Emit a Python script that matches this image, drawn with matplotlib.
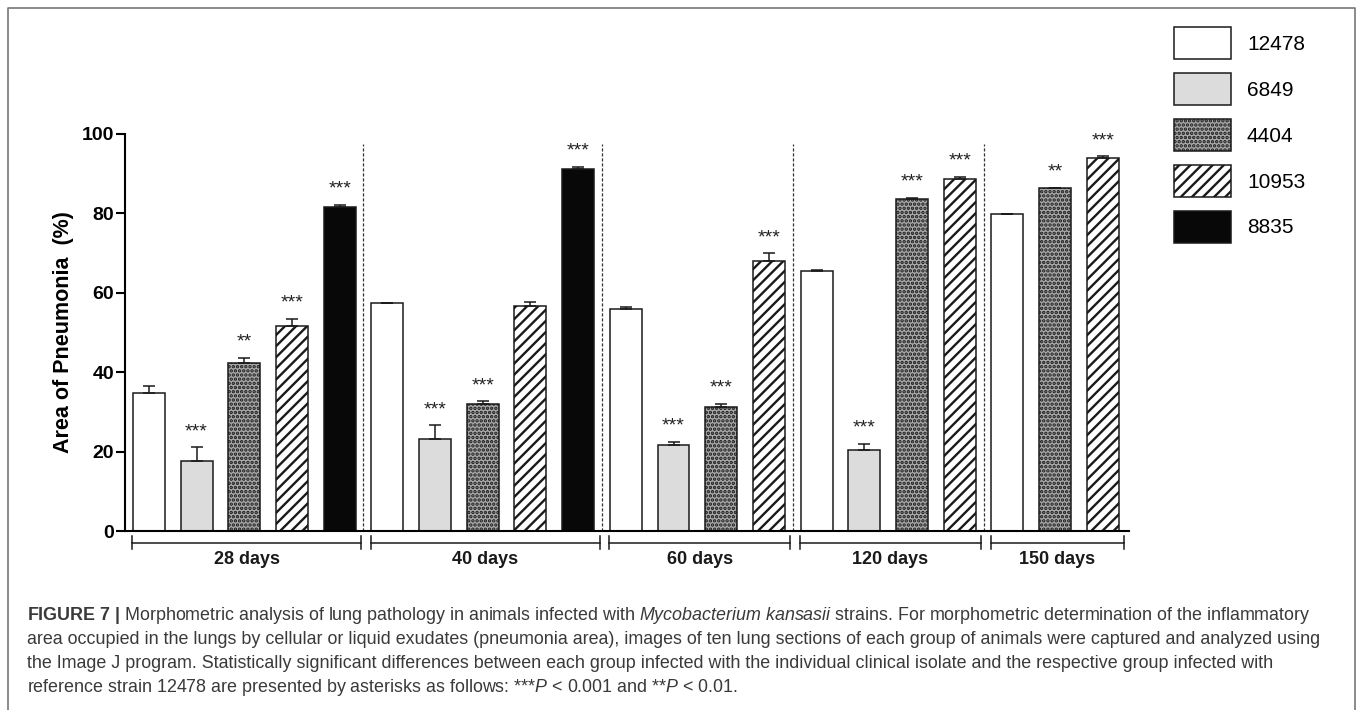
import matplotlib
matplotlib.use("Agg")
import matplotlib.pyplot as plt
import matplotlib.patches as mpatches
import matplotlib.transforms as mtransforms
from matplotlib.lines import Line2D

plt.rcParams["font.family"] = ["Liberation Sans", "DejaVu Sans"]
plt.rcParams["mathtext.fontset"] = "custom"
plt.rcParams["mathtext.rm"] = "Liberation Sans"
plt.rcParams["mathtext.it"] = "Liberation Sans:italic"
plt.rcParams["mathtext.bf"] = "Liberation Sans:bold"
plt.rcParams["hatch.linewidth"] = 1.7

# time points and strains
days = ["28 days", "40 days", "60 days", "120 days", "150 days"]
strains = ["12478", "6849", "4404", "10953", "8835"]

strains_28 = ["12478", "6849", "4404", "10953", "8835"]
area_28 = [34.7, 17.7, 42.4, 51.7, 81.5]
sem_28 = [1.9, 3.4, 1.2, 1.8, 0.6]
stars_28 = ["", "***", "**", "***", "***"]

strains_40 = ["12478", "6849", "4404", "10953", "8835"]
area_40 = [57.4, 23.2, 32.0, 56.8, 91.3]
sem_40 = [0.0, 3.4, 0.7, 0.8, 0.5]
stars_40 = ["", "***", "***", "", "***"]

strains_60 = ["12478", "6849", "4404", "10953"]
area_60 = [55.8, 21.7, 31.3, 68.0]
sem_60 = [0.7, 0.7, 0.8, 1.9]
stars_60 = ["", "***", "***", "***"]

strains_120 = ["12478", "6849", "4404", "10953"]
area_120 = [65.6, 20.4, 83.7, 88.7]
sem_120 = [0.2, 1.5, 0.2, 0.5]
stars_120 = ["", "***", "***", "***"]

strains_150 = ["12478", "4404", "10953"]
area_150 = [79.9, 86.4, 93.9]
sem_150 = [0.0, 0.0, 0.5]
stars_150 = ["", "**", "***"]

groups = [
    (strains_28, area_28, sem_28, stars_28),
    (strains_40, area_40, sem_40, stars_40),
    (strains_60, area_60, sem_60, stars_60),
    (strains_120, area_120, sem_120, stars_120),
    (strains_150, area_150, sem_150, stars_150),
]

caption_lines = [
    r"$\mathbf{FIGURE\ 7\ |}$ Morphometric analysis of lung pathology in animals infected with "
    r"$\mathit{Mycobacterium\ kansasii}$ strains. For morphometric determination of the inflammatory",
    "area occupied in the lungs by cellular or liquid exudates (pneumonia area), images of ten lung "
    "sections of each group of animals were captured and analyzed using",
    "the Image J program. Statistically significant differences between each group infected with the "
    "individual clinical isolate and the respective group infected with",
    r"reference strain 12478 are presented by asterisks as follows: ***$\mathit{P}$ < 0.001 and "
    r"**$\mathit{P}$ < 0.01.",
]

style = {
    "12478": dict(facecolor="white", hatch=None),
    "6849": dict(facecolor="#dcdcdc", hatch=None),
    "4404": dict(facecolor="#a9a9a9", hatch="...."),
    "10953": dict(facecolor="white", hatch="///"),
    "8835": dict(facecolor="#080808", hatch=None),
}

W, H = 1358, 710
fig = plt.figure(figsize=(W / 100, H / 100), dpi=100)
ax = fig.add_axes([125 / W, 179 / H, 1004 / W, 397 / H])

# positions per strain
xs = {s: [] for s in strains}
ys = {s: [] for s in strains}
es = {s: [] for s in strains}
spans = []
i = 0
for names, vals, errs, stars in groups:
    start = i
    for n, v, e, st in zip(names, vals, errs, stars):
        xs[n].append(i)
        ys[n].append(v)
        es[n].append(e)
        if st:
            ax.annotate(st, (i, v + e), xytext=(0, 8), textcoords="offset points",
                        ha="center", va="baseline", fontsize=14, color="#222222")
        i += 1
    spans.append((start, i - 1))

for s in strains:
    ax.bar(xs[s], ys[s], width=0.67, edgecolor="#1a1a1a", linewidth=1.1,
           zorder=2, **style[s])
    ax.errorbar(xs[s], ys[s], yerr=[[0] * len(es[s]), es[s]], fmt="none",
                ecolor="#1a1a1a", elinewidth=1.1, capsize=4.3, capthick=1.1, zorder=3)

# dashed separators between time points
for start, end in spans[:-1]:
    ax.vlines(end + 0.5, 0, 97.5, colors="#333333", linestyles=(0, (2.5, 1.5)), linewidth=0.9)

# brackets + day labels under the axis
trans = mtransforms.blended_transform_factory(ax.transData, ax.transAxes)
for (start, end), d in zip(spans, days):
    x0, x1 = start - 0.35, end + 0.45
    ax.plot([x0, x1], [-0.030, -0.030], color="#1a1a1a", lw=1.1, transform=trans, clip_on=False)
    for xx in (x0, x1):
        ax.plot([xx, xx], [-0.013, -0.046], color="#1a1a1a", lw=1.1, transform=trans, clip_on=False)
    ax.text((x0 + x1) / 2, -0.073, d, transform=trans, ha="center", va="center",
            fontsize=13, fontweight="bold", color="#1a1a1a")

ax.set_xlim(-0.5, 20.55)
ax.set_ylim(0, 100)
ax.set_xticks([])
ax.set_yticks([0, 20, 40, 60, 80, 100])
ax.tick_params(axis="y", length=6.5, width=1.5, pad=1.5, labelsize=14)
for lab in ax.get_yticklabels():
    lab.set_fontweight("bold")
ax.spines["top"].set_visible(False)
ax.spines["right"].set_visible(False)
ax.spines["left"].set_linewidth(1.5)
ax.spines["bottom"].set_linewidth(1.5)
ax.set_ylabel("Area of Pneumonia  (%)", fontsize=15.5, fontweight="bold")
ax.yaxis.set_label_coords(-0.051, 0.5)

# legend
handles = [mpatches.Patch(edgecolor="#1a1a1a", linewidth=1.1, **style[s]) for s in strains]
fig.legend(handles=handles, labels=strains, loc="upper left",
           bbox_to_anchor=(1174 / W, 1 - 27 / H), frameon=False, fontsize=15,
           handlelength=2.75, handleheight=2.0, labelspacing=0.66, handletextpad=0.75,
           borderpad=0, borderaxespad=0)

# outer frame
fig.add_artist(Line2D([8 / W, 8 / W, 1355 / W, 1355 / W], [0, 1 - 8 / H, 1 - 8 / H, 0],
                      color="#777777", lw=1.2))

# caption
baselines = [620.5, 644.5, 668, 691.5]
texts = [fig.text(27 / W, 1 - b / H, line, ha="left", va="baseline", fontsize=12,
                  color="#3a3a3a") for line, b in zip(caption_lines, baselines)]
fig.canvas.draw()
r = fig.canvas.get_renderer()
w2 = texts[1].get_window_extent(r).width
scale = (1320 - 27) / w2
for t in texts:
    t.set_fontsize(12 * scale)

fig.savefig("out.png", dpi=100)
